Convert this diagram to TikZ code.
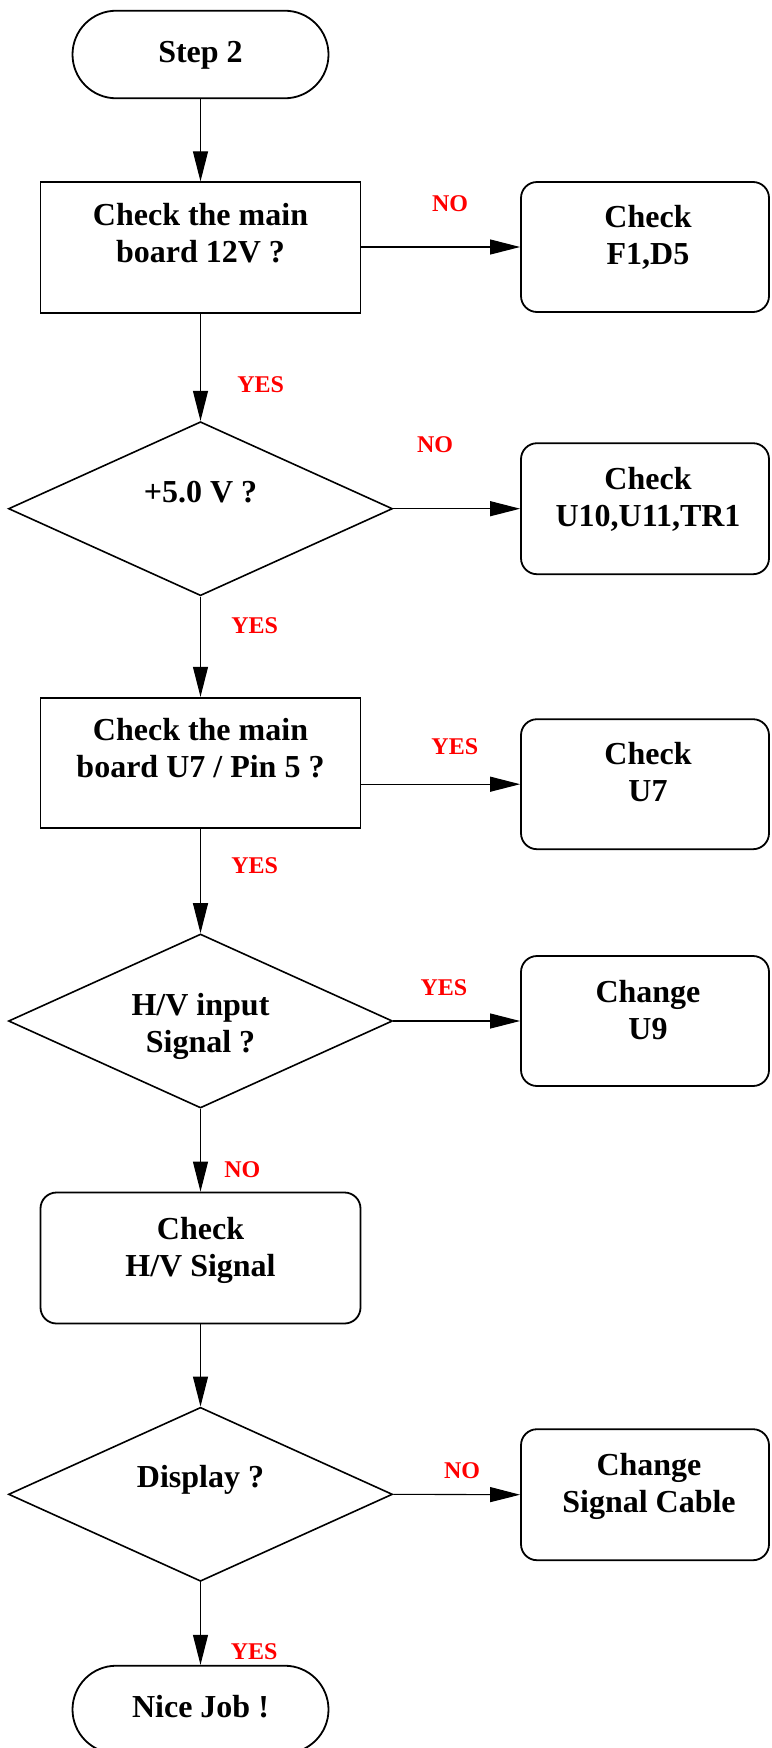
\documentclass[tikz,border=0pt]{standalone}
\usepackage{fontspec}
\setmainfont{Liberation Serif}
\usetikzlibrary{shapes.geometric,arrows.meta,calc}
\begin{document}
\begin{tikzpicture}[x=1pt,y=-1pt,
  box/.style={draw,line width=1.8pt,minimum width=320pt,minimum height=131pt,inner sep=0pt},
  rbox/.style={box,rounded corners=16pt,minimum width=248pt,minimum height=130pt},
  term/.style={draw,line width=1.8pt,rounded corners=43.8pt,minimum width=256pt,minimum height=87.6pt,inner sep=0pt},
  dec/.style={draw,diamond,line width=1.6pt,minimum width=384pt,minimum height=174pt,inner sep=0pt,aspect=2.2},
  txt/.style={font=\fontsize{32}{37}\selectfont\bfseries,align=center,inner sep=0pt},
  lab/.style={font=\fontsize{24}{28}\selectfont\bfseries,text=red,inner sep=0pt},
  conn/.style={line width=1.1pt,-{Triangle[length=30pt,width=15pt]}}]
\useasboundingbox (0,0) rectangle (771,1748);

% shapes
\node[term] (s2) at (200.5,54.5) {};
\node[box]  (b1) at (200.5,247.8) {};
\node[rbox] (r1) at (645,247) {};
\node[dec]  (d1) at (200.5,508.7) {};
\node[rbox,minimum height=131pt] (r2) at (645,508.7) {};
\node[box,minimum height=130pt] (b2) at (200.5,762.7) {};
\node[rbox] (r3) at (645,784.2) {};
\node[dec]  (d2) at (200.5,1021) {};
\node[rbox] (r4) at (645,1021) {};
\node[box,rounded corners=16pt] (b3) at (200.5,1258) {};
\node[dec]  (d3) at (200.5,1494.3) {};
\node[rbox,minimum height=131pt] (r5) at (645,1494.7) {};
\node[term] (s3) at (200.5,1709.5) {};

% texts
\node[txt] (s2t) at (200.5,54.9) {\strut Step 2};
\node[txt] (b1t) at (200.5,236.7) {\strut Check the main\\\strut board 12V ?};
\node[txt] (r1t) at (648,238.2) {\strut Check\\\strut F1,D5};
\node[txt] (d1t) at (200.5,494.9) {\strut +5.0 V ?};
\node[txt] (r2t) at (648,501) {\strut Check\\\strut U10,U11,TR1};
\node[txt] (b2t) at (200.5,751.5) {\strut Check the main\\\strut board U7 / Pin 5 ?};
\node[txt] (r3t) at (648,775.2) {\strut Check\\\strut U7};
\node[txt] (d2t) at (200.5,1026.5) {\strut H/V input\\\strut Signal ?};
\node[txt] (r4t) at (648,1013.2) {\strut Change\\\strut U9};
\node[txt] (b3t) at (200.5,1250.2) {\strut Check\\\strut H/V Signal};
\node[txt] (d3t) at (200.5,1479.9) {\strut Display ?};
\node[txt] (r5t) at (649,1486.5) {\strut Change\\\strut Signal Cable};
\node[txt] (s3t) at (200.5,1709.9) {\strut Nice Job !};

% connectors
\draw[conn] (s2) -- (b1);
\draw[conn] (b1.east |- r1.west) -- (r1.west);
\draw[conn] (b1) -- (d1);
\draw[conn] (d1.east) -- (r2.west);
\draw[conn] (d1) -- (b2);
\draw[conn] (b2.east |- r3.west) -- (r3.west);
\draw[conn] (b2) -- (d2);
\draw[conn] (d2.east) -- (r4.west);
\draw[conn] (d2) -- (b3);
\draw[conn] (b3) -- (d3);
\draw[conn] (d3.east) -- (r5.west);
\draw[conn] (d3) -- (s3);

% labels
\node[lab] (l1) at (450,204) {NO};
\node[lab] (l2) at (260.6,385) {YES};
\node[lab] (l3) at (435,445) {NO};
\node[lab] (l4) at (254.7,626) {YES};
\node[lab] (l5) at (454.8,746.7) {YES};
\node[lab] (l6) at (254.7,866) {YES};
\node[lab] (l7) at (444,988) {YES};
\node[lab] (l8) at (242.4,1170) {NO};
\node[lab] (l9) at (462,1470.7) {NO};
\node[lab] (l10) at (254.2,1651.7) {YES};
\end{tikzpicture}
\end{document}
